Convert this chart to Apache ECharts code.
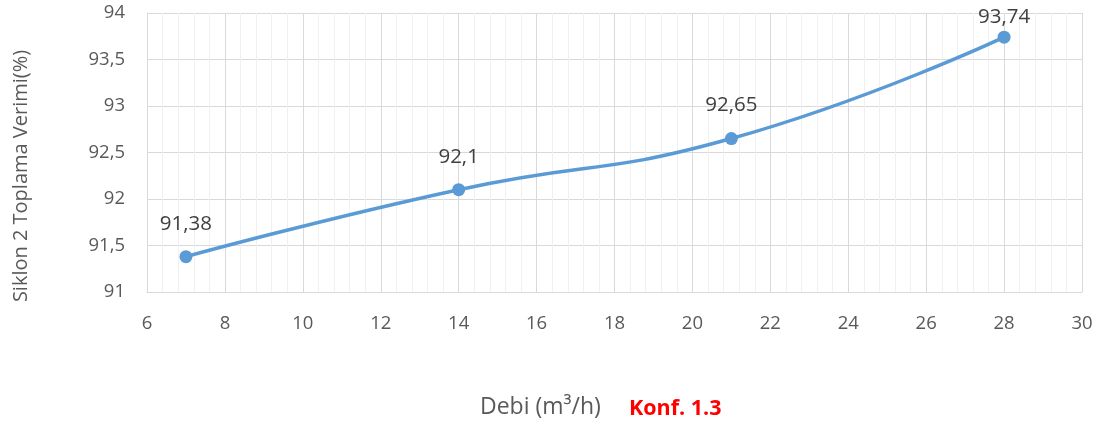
<!DOCTYPE html>
<html>
<head>
<meta charset="utf-8">
<script src="https://cdn.jsdelivr.net/npm/echarts@6/dist/echarts.min.js"></script>
<style>html,body{margin:0;padding:0;background:#fff}#c{width:1109px;height:435px}</style>
</head>
<body>
<div id="c"></div>
<script>
var debi = [7, 14, 21, 28];
var verim = [91.38, 92.1, 92.65, 93.74];
var yAxisTitle = 'Siklon 2 Toplama Verimi(%)';
var xAxisTitle = 'Debi (m³/h)';
var confLabel = 'Konf. 1.3';

var FONT = '"Open Sans", "Liberation Sans", sans-serif';
var chart = echarts.init(document.getElementById('c'));
var pts = debi.map(function (x, i) { return [x, verim[i]]; });
function comma(v) { return String(v).replace('.', ','); }

chart.setOption({
  animation: false,
  grid: { left: 147, right: 27, top: 13, bottom: 143 },
  xAxis: {
    type: 'value', min: 6, max: 30, interval: 2,
    axisLine: { show: true, lineStyle: { color: '#d9d9d9' } },
    axisTick: { show: false },
    axisLabel: { color: '#595959', fontSize: 18.5, fontFamily: FONT, margin: 22 },
    splitLine: { show: true, lineStyle: { color: '#d9d9d9', width: 1 } },
    minorTick: { show: false, splitNumber: 5 },
    minorSplitLine: { show: true, lineStyle: { color: '#f0f0f0', width: 1 } }
  },
  yAxis: {
    type: 'value', min: 91, max: 94, interval: 0.5,
    axisLine: { show: true, lineStyle: { color: '#d9d9d9' } },
    axisTick: { show: false },
    axisLabel: { color: '#595959', fontSize: 18.5, fontFamily: FONT, margin: 22, formatter: function (v) { return comma(v); } },
    splitLine: { show: true, lineStyle: { color: '#d9d9d9', width: 1 } }
  },
  graphic: [
    {
      type: 'text', left: 480, top: 396,
      style: { text: xAxisTitle, fill: '#595959', fontSize: 23, fontFamily: FONT }
    },
    {
      type: 'text', left: 629, top: 398,
      style: { text: confLabel, fill: '#ff0000', fontSize: 21.5, fontWeight: 'bold', fontFamily: FONT }
    },
    {
      type: 'text', x: 21, y: 176, rotation: Math.PI / 2,
      style: {
        text: yAxisTitle, fill: '#595959', fontSize: 20, fontFamily: FONT,
        align: 'center', verticalAlign: 'middle'
      }
    }
  ],
  series: [{
    type: 'line',
    data: pts.map(function (p, i) {
      return i === pts.length - 1 ? { value: p, label: { distance: 3 } } : { value: p };
    }),
    smooth: 0.5,
    symbol: 'circle', symbolSize: 13,
    lineStyle: { color: '#5b9bd5', width: 3.5 },
    itemStyle: { color: '#5b9bd5' },
    label: {
      show: true, position: 'top', distance: 16,
      color: '#404040', fontSize: 20.5, fontFamily: FONT,
      formatter: function (p) { return comma(p.value[1]); }
    }
  }]
});
</script>
</body>
</html>
